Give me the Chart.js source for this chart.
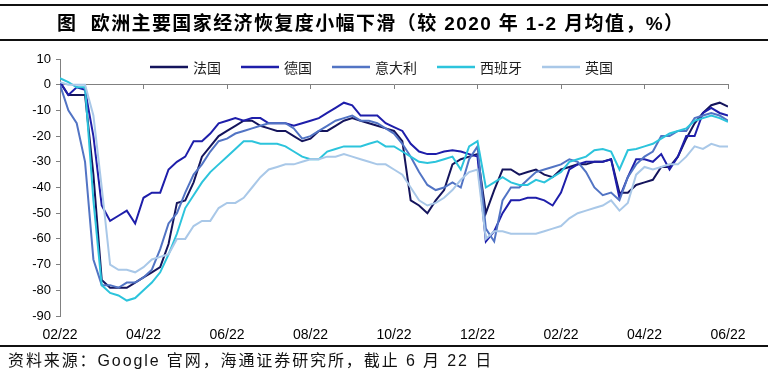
<!DOCTYPE html>
<html><head><meta charset="utf-8">
<script src="https://cdn.jsdelivr.net/npm/chart.js@4/dist/chart.umd.min.js"></script>
<style>
html,body{margin:0;padding:0;background:#fff;}
#wrap{position:relative;width:768px;height:373px;overflow:hidden;background:#fff;}
#cv{position:absolute;left:0;top:0;width:768px;height:373px;}
.rule{position:absolute;left:0;width:768px;height:2px;background:#111;}
#title{position:absolute;left:57px;top:8px;font:bold 19px "Liberation Sans","Noto Sans CJK SC",sans-serif;letter-spacing:1.4px;white-space:nowrap;color:#000;}
#source{position:absolute;left:8px;top:347px;font:16px "Liberation Sans","Noto Sans CJK SC",sans-serif;letter-spacing:1.9px;white-space:nowrap;color:#111;}
</style></head>
<body><div id="wrap">
<canvas id="cv" width="768" height="373"></canvas>
<div class="rule" style="top:4px"></div>
<div id="title">图&nbsp;&nbsp;欧洲主要国家经济恢复度小幅下滑（较 2020 年 1-2 月均值，%）</div>
<div class="rule" style="top:39px"></div>
<div class="rule" style="top:345px"></div>
<div id="source">资料来源：Google 官网，海通证券研究所，截止 6 月 22 日</div>
</div>
<script>
const xTickLabels = ['02/22','04/22','06/22','08/22','10/22','12/22','02/22','04/22','06/22'];
const pointsPerTick = 10;
const seriesNames = ['法国','德国','意大利','西班牙','英国'];
const seriesColors = ['#14145c','#1e1eaa','#5274c4','#2cc4dc','#a9c8e8'];

const france = [1,-4,-4,-4,-35,-76,-79,-79,-79,-77,
  -75,-73,-71,-62,-46,-45,-38,-28,-24,-20,
  -18,-16,-14,-14,-16,-17,-18,-18,-20,-22,
  -21,-18,-18,-16,-14,-13,-14,-15,-16,-17,
  -18,-22,-45,-47,-50,-45,-41,-31,-29,-28,
  -27,-50,-41,-33,-33,-35,-34,-33,-35,-36,
  -33,-32,-31,-31,-30,-30,-29,-42,-42,-39,
  -38,-37,-32,-32,-28,-21,-15,-11,-8,-7,-8.5];
const germany = [1,-4,-1,-2,-20,-47,-53,-51,-49,-54,
  -44,-42,-42,-33,-30,-28,-22,-22,-19,-15,
  -14,-13,-14,-13,-13,-15,-15,-15,-16,-15,
  -14,-13,-11,-9,-7,-8,-12,-12,-12,-15,
  -16.5,-18,-23,-26,-27,-27,-26,-25.5,-26,-27,
  -28,-61,-57,-50,-45,-45,-44,-44,-45,-47,
  -42,-33,-31,-30,-30,-30,-29,-44,-36,-29,
  -29,-30,-27,-33,-28,-20,-20,-11,-9,-11,-12];
const italy = [0,-10,-15,-30,-68,-78,-78,-79,-77,-77,
  -75,-72,-64,-54,-50,-42,-35,-31,-26,-22,
  -21,-19,-18,-17,-16,-15,-15,-15,-17,-21,
  -20,-18,-16,-14,-13,-12,-14,-14,-15,-17,
  -19,-23,-28,-34,-39,-41,-40,-38,-40,-29,
  -24,-56,-61,-45,-40,-40,-37,-34,-33,-32,
  -31,-29,-30,-34,-40,-43,-42,-45,-36,-31,
  -28,-26,-20,-20,-18,-18,-13,-12,-11,-12,-14];
const spain = [2.5,1,-1,-1,-45,-78,-81,-82,-84,-83,
  -80,-77,-73,-66,-58,-48,-43,-38,-34,-31,
  -28,-25,-22,-22,-23,-23,-23,-24,-26,-28,
  -29,-29,-26,-25,-24,-24,-24,-23,-22,-24,
  -24,-26,-28,-30,-30.5,-30,-29,-28,-33,-24,
  -22,-40,-38,-36,-38,-39,-39,-37,-38,-36,
  -34,-30,-29,-28,-25.5,-25,-26,-33,-25.5,-25,
  -24,-23,-21,-19,-18,-17,-14,-13,-12,-13,-14.5];
const uk = [1,0,0,0,-12,-40,-70,-72,-72,-73,
  -71,-68,-67,-66,-60,-60,-55,-53,-53,-48,
  -46,-46,-44,-40,-36,-33,-32,-31,-31,-30,
  -29,-29,-28,-28,-27,-28,-29,-30,-31,-31,
  -33,-35,-40,-45,-47,-46,-44,-41,-37,-34,
  -33,-60,-57,-57,-58,-58,-58,-58,-57,-56,
  -55,-52,-50,-49,-48,-47,-45,-49,-46,-35,
  -32,-33,-32,-31,-31,-28,-24,-25,-23,-24,-24];
const seriesValues = [france, germany, italy, spain, uk];

const yTickFont = {family:'"Liberation Sans", Arial, sans-serif', size:13};
const xTickFont = {family:'"Liberation Sans", Arial, sans-serif', size:14};

const lineLegend = {
  id:'lineLegend',
  afterDraw(chart){
    const ctx = chart.ctx;
    ctx.save();
    ctx.font = '14px "Noto Sans CJK SC", sans-serif';
    ctx.textBaseline = 'middle';
    let x = 150; const y = 67;
    chart.data.datasets.forEach(ds => {
      ctx.strokeStyle = ds.borderColor; ctx.lineWidth = 2.5;
      ctx.beginPath(); ctx.moveTo(x, y); ctx.lineTo(x + 38, y); ctx.stroke();
      x += 43;
      ctx.fillStyle = '#222';
      ctx.fillText(ds.label, x, y + 1);
      x += ctx.measureText(ds.label).width + 20;
    });
    ctx.restore();
  }
};

new Chart(document.getElementById('cv'), {
  type:'line',
  data:{
    datasets: seriesNames.map((name, k) => ({
      label: name,
      data: seriesValues[k].map((v, i) => ({x:i, y:v})),
      borderColor: seriesColors[k],
      backgroundColor: seriesColors[k],
      borderWidth: 2,
      pointRadius: 0,
      tension: 0,
      fill: false,
      order: seriesNames.length - k
    }))
  },
  options:{
    responsive:false, animation:false, devicePixelRatio:1,
    layout:{padding:{top:59, right:40, bottom:0, left:0}},
    plugins:{legend:{display:false}, tooltip:{enabled:false}},
    scales:{
      x:{type:'linear', min:0, max:80, position:{y:0},
        ticks:{display:false, stepSize:pointsPerTick},
        grid:{drawOnChartArea:false, drawTicks:true, tickLength:4, color:'#808080'},
        border:{display:true, color:'#808080', width:1}},
      x2:{type:'linear', min:0, max:80, position:'bottom',
        ticks:{stepSize:pointsPerTick, autoSkip:false, maxRotation:0, padding:11, font:xTickFont, color:'#000',
          callback:(v) => xTickLabels[Math.round(v / pointsPerTick)]},
        grid:{display:false, drawTicks:false},
        border:{display:false},
        afterFit(s){ s.height = 57; }},
      y:{min:-90, max:10,
        ticks:{stepSize:10, padding:5, font:yTickFont, color:'#000'},
        grid:{drawOnChartArea:false, tickLength:4, color:'#808080'},
        border:{display:true, color:'#808080', width:1},
        afterFit(s){ s.width = 60; }}
    }
  },
  plugins:[lineLegend]
});
</script>
</body></html>
